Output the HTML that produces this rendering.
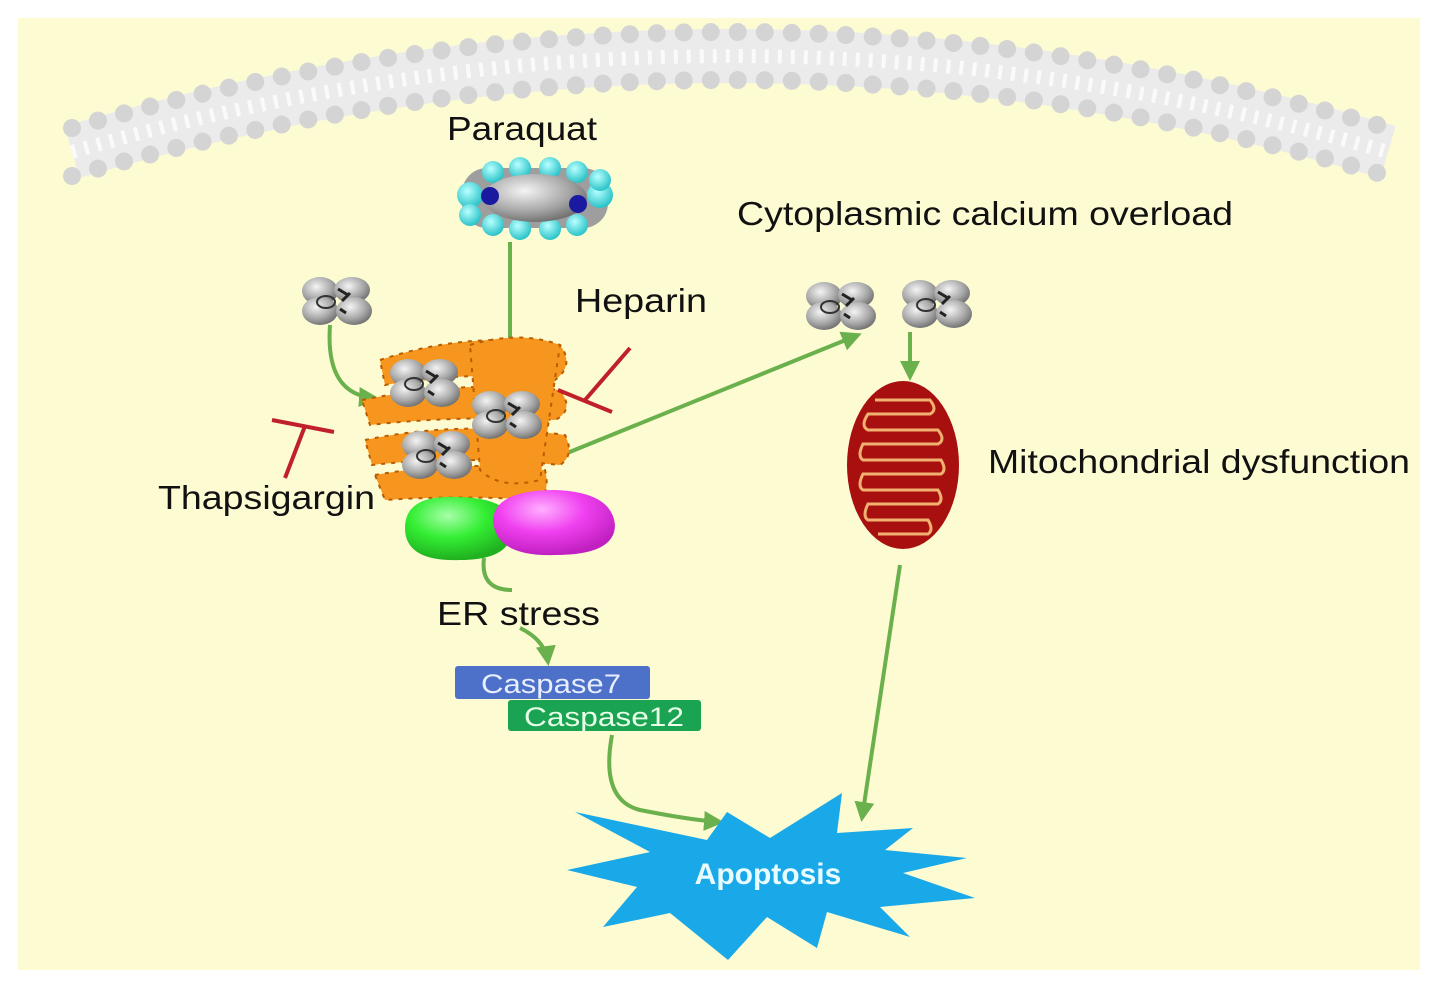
<!DOCTYPE html>
<html><head><meta charset="utf-8"><style>
html,body{margin:0;padding:0;background:#fff;}
svg{display:block;}
text{font-family:"Liberation Sans",sans-serif;}
</style></head><body>
<svg width="1441" height="998" viewBox="0 0 1441 998" xmlns="http://www.w3.org/2000/svg">
<defs>
<radialGradient id="gg" cx="40%" cy="35%" r="70%"><stop offset="0" stop-color="#f4f4f4"/><stop offset="0.6" stop-color="#a8a8a8"/><stop offset="1" stop-color="#6a6a6a"/></radialGradient>
<radialGradient id="cy" cx="40%" cy="35%" r="70%"><stop offset="0" stop-color="#b9ffff"/><stop offset="1" stop-color="#1fbfc4"/></radialGradient>
<radialGradient id="gr" cx="40%" cy="30%" r="70%"><stop offset="0" stop-color="#a8ffa8"/><stop offset="0.5" stop-color="#33ee33"/><stop offset="1" stop-color="#20b020"/></radialGradient>
<radialGradient id="mg" cx="40%" cy="30%" r="70%"><stop offset="0" stop-color="#ffb0ff"/><stop offset="0.5" stop-color="#f040f0"/><stop offset="1" stop-color="#c020c0"/></radialGradient>
<symbol id="ca" viewBox="0 0 76 52">
<ellipse cx="20" cy="16" rx="18" ry="14" fill="url(#gg)"/>
<ellipse cx="52" cy="15" rx="18" ry="13" fill="url(#gg)"/>
<ellipse cx="20" cy="36" rx="18" ry="14" fill="url(#gg)"/>
<ellipse cx="54" cy="36" rx="18" ry="14" fill="url(#gg)"/>
<ellipse cx="26" cy="27" rx="9" ry="6" fill="none" stroke="#333" stroke-width="2"/>
<path d="M38 14 l10 6 M42 26 l8 -8 M40 34 l6 4" stroke="#222" stroke-width="3"/>
</symbol>
<marker id="ar" viewBox="0 0 10 10" refX="8" refY="5" markerWidth="5" markerHeight="5" orient="auto"><path d="M0 0 L10 5 L0 10 z" fill="#6ab04c"/></marker>
</defs>
<rect x="18" y="18" width="1402" height="952" fill="#fdfbd2"/>
<!-- membrane -->
<path d="M72 152 Q730 -40 1388 152" fill="none" stroke="#ebebeb" stroke-width="54"/>
<path d="M72 128 Q730 -64 1388 128" fill="none" stroke="#d4d4d4" stroke-width="18" stroke-dasharray="0 27" stroke-linecap="round"/>
<path d="M72 176 Q730 -16 1388 176" fill="none" stroke="#d4d4d4" stroke-width="18" stroke-dasharray="0 27" stroke-linecap="round"/>
<path d="M72 152 Q730 -40 1388 152" fill="none" stroke="#fafafa" stroke-width="14" stroke-dasharray="4 9"/>
<!-- paraquat -->
<text x="447" y="140" font-size="33" fill="#111" textLength="150" lengthAdjust="spacingAndGlyphs">Paraquat</text>
<g>
<rect x="462" y="168" width="146" height="60" rx="25" fill="#9e9e9e"/>
<circle cx="470" cy="195" r="13" fill="url(#cy)"/><circle cx="600" cy="195" r="13" fill="url(#cy)"/>
<circle cx="470" cy="215" r="11" fill="url(#cy)"/><circle cx="600" cy="180" r="11" fill="url(#cy)"/>
<circle cx="493" cy="172" r="11" fill="url(#cy)"/><circle cx="520" cy="168" r="11" fill="url(#cy)"/><circle cx="550" cy="168" r="11" fill="url(#cy)"/><circle cx="577" cy="172" r="11" fill="url(#cy)"/>
<circle cx="493" cy="225" r="11" fill="url(#cy)"/><circle cx="520" cy="229" r="11" fill="url(#cy)"/><circle cx="550" cy="229" r="11" fill="url(#cy)"/><circle cx="577" cy="225" r="11" fill="url(#cy)"/>
<ellipse cx="535" cy="198" rx="52" ry="24" fill="url(#gg)"/>
<circle cx="490" cy="196" r="9" fill="#1a1aa0"/><circle cx="578" cy="204" r="9" fill="#1a1aa0"/>
</g>
<!-- arrows -->
<g fill="none" stroke="#6ab04c" stroke-width="4">
<path d="M510 242 L510 362" marker-end="url(#ar)"/>
<path d="M330 325 Q325 395 375 398" marker-end="url(#ar)"/>
<path d="M545 462 L858 335" marker-end="url(#ar)"/>
<path d="M910 332 L910 377" marker-end="url(#ar)"/>
<path d="M900 565 L862 818" marker-end="url(#ar)"/>
<path d="M484 558 Q480 590 512 590"/>
<path d="M520 628 Q545 640 548 662" marker-end="url(#ar)"/>
<path d="M612 735 Q600 800 640 810 Q690 820 720 822" marker-end="url(#ar)"/>
</g>
<!-- ER -->
<g fill="#f7961e" stroke="#b85d00" stroke-width="2" stroke-dasharray="4 6">
<path d="M380 360 Q470 330 560 345 Q575 365 555 380 Q470 370 385 385 Z"/>
<path d="M362 400 Q460 380 560 390 Q575 410 555 420 Q460 415 370 425 Z"/>
<path d="M365 440 Q460 420 565 435 Q575 455 560 465 Q460 455 372 465 Z"/>
<path d="M375 475 Q460 460 545 470 Q550 490 540 500 Q460 495 385 500 Z"/>
<path d="M470 345 Q520 330 560 345 L540 480 Q500 490 480 470 Z"/>
</g>
<use href="#ca" x="300" y="275" width="76" height="52"/>
<use href="#ca" x="388" y="355" width="76" height="56"/>
<use href="#ca" x="470" y="388" width="76" height="54"/>
<use href="#ca" x="400" y="428" width="76" height="54"/>
<use href="#ca" x="803" y="280" width="78" height="52"/>
<use href="#ca" x="899" y="278" width="78" height="52"/>
<path d="M405 528 Q405 495 455 497 Q510 497 512 525 Q515 560 460 560 Q405 562 405 528Z" fill="url(#gr)"/>
<path d="M493 520 Q495 490 555 490 Q612 492 615 525 Q615 555 555 555 Q495 557 493 520Z" fill="url(#mg)"/>
<!-- inhibitors -->
<g stroke="#c0202a" stroke-width="4" fill="none">
<path d="M630 348 L585 400 M558 390 L612 412"/>
<path d="M285 478 L305 426 M272 420 L334 432"/>
</g>
<text x="575" y="312" font-size="33" fill="#111" textLength="132" lengthAdjust="spacingAndGlyphs">Heparin</text>
<text x="158" y="509" font-size="33" fill="#111" textLength="217" lengthAdjust="spacingAndGlyphs">Thapsigargin</text>
<text x="737" y="225" font-size="33" fill="#111" textLength="496" lengthAdjust="spacingAndGlyphs">Cytoplasmic calcium overload</text>
<text x="988" y="473" font-size="33" fill="#111" textLength="422" lengthAdjust="spacingAndGlyphs">Mitochondrial dysfunction</text>
<text x="437" y="625" font-size="33" fill="#111" textLength="163" lengthAdjust="spacingAndGlyphs">ER stress</text>
<!-- mito -->
<ellipse cx="903" cy="465" rx="56" ry="84" fill="#a81010"/>
<path d="M875 400 h55 q8 10 0 14 h-62 q-8 12 0 16 h70 q8 10 0 14 h-75 q-6 12 0 16 h78 q6 10 0 14 h-78 q-6 12 0 16 h75 q6 10 0 14 h-70 q-6 12 0 16 h60 q6 10 0 14 h-50" fill="none" stroke="#f0b070" stroke-width="3"/>
<!-- caspases -->
<rect x="455" y="666" width="195" height="33" rx="3" fill="#4d70c8"/>
<text x="481" y="693" font-size="27" fill="#e8eeff" textLength="140" lengthAdjust="spacingAndGlyphs">Caspase7</text>
<rect x="508" y="700" width="193" height="31" rx="3" fill="#1aa352"/>
<text x="524" y="726" font-size="27" fill="#e8ffe8" textLength="160" lengthAdjust="spacingAndGlyphs">Caspase12</text>
<!-- apoptosis -->
<polygon points="575,812 650,852 567,870 637,887 603,927 670,913 728,960 767,917 817,948 827,912 910,937 880,907 975,898 903,873 967,858 885,850 913,828 837,833 842,793 770,838 727,812 707,840" fill="#1aa9e8"/>
<text x="768" y="884" font-size="30" font-weight="bold" fill="#e8fbff" text-anchor="middle">Apoptosis</text>
</svg>
</body></html>
